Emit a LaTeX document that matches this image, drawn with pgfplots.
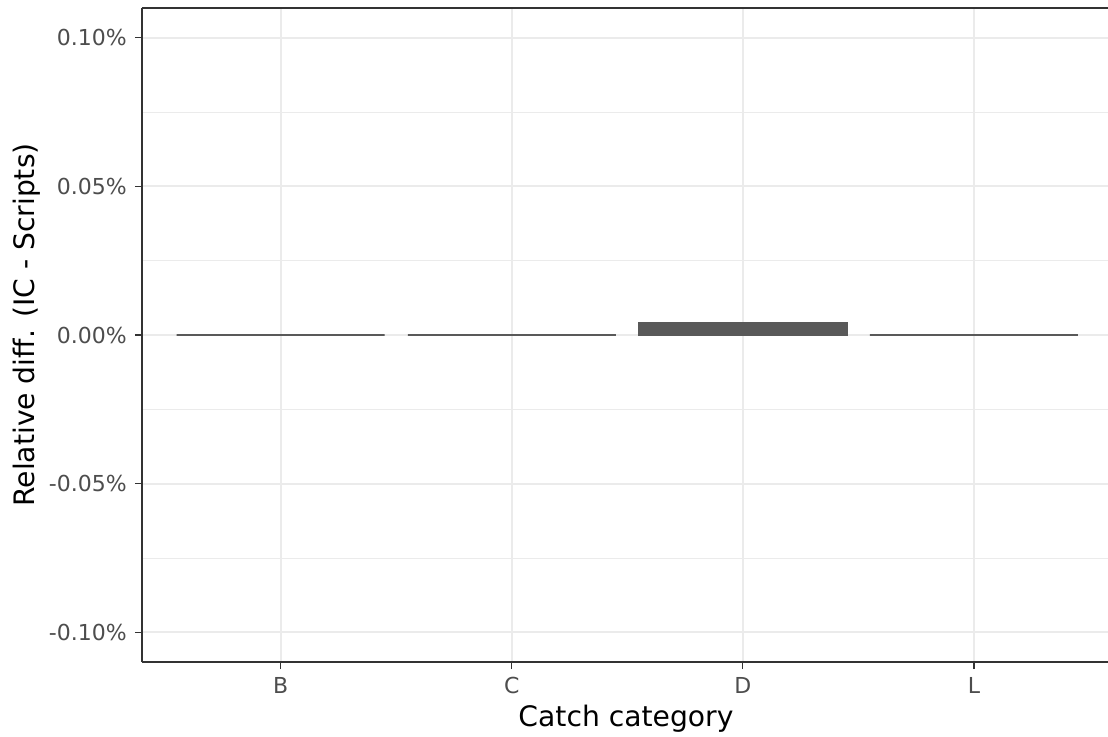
\documentclass[border=0pt]{standalone}
\usepackage{pgfplots}
\pgfplotsset{compat=1.18}
\usepackage{fontspec}
\setmainfont{DejaVu Sans}
\definecolor{barfill}{HTML}{595959}
\definecolor{gridc}{HTML}{EBEBEB}
\definecolor{tickc}{HTML}{333333}
\definecolor{labc}{HTML}{4D4D4D}
\begin{document}
\begin{tikzpicture}
\useasboundingbox (-71pt,-37pt) rectangle (483pt,331pt);
\begin{axis}[
 at={(0,0)}, anchor=south west,
 scale only axis, width=483pt, height=327pt,
 xmin=-0.6, xmax=3.58, ymin=-0.11, ymax=0.11,
 axis x line=box, axis y line=left,
 axis line style={-, draw=tickc, line width=0.6pt},
 xtick={0,1,2,3}, xticklabels={B,C,D,L},
 ytick={-0.1,-0.05,0,0.05,0.1},
 yticklabels={-0.10\%,-0.05\%,0.00\%,0.05\%,0.10\%},
 minor ytick={-0.075,-0.025,0.025,0.075},
 xtick pos=bottom, ytick pos=left,
 tick align=outside, major tick length=3.6pt, minor tick length=0pt,
 tick style={draw=tickc, line width=0.6pt},
 grid=both,
 major grid style={draw=gridc, line width=0.9pt},
 minor grid style={draw=gridc, line width=0.45pt},
 tick label style={font=\fontsize{11}{12}\selectfont, text=labc},
 yticklabel style={xshift=-0.5pt},
 xticklabel style={yshift=-0.5pt},
 xlabel={Catch category}, ylabel={Relative diff. (IC - Scripts)},
 every axis x label/.style={at={([yshift=-28.5pt]axis description cs:0.501,0)}, anchor=center, font=\fontsize{14.1}{16}\selectfont, text=black},
 every axis y label/.style={at={([xshift=-57.5pt,yshift=5pt]axis description cs:0,0.5)}, anchor=center, rotate=90, font=\fontsize{14.1}{16}\selectfont, text=black},
]
\addplot[ybar, bar width=0.9, fill=barfill, draw=barfill, line width=0.8pt]
 coordinates {(0,0) (1,0) (2,0.0042) (3,0)};
\end{axis}
\end{tikzpicture}
\end{document}
